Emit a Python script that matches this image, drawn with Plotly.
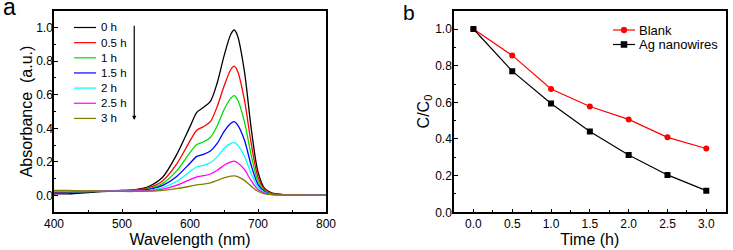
import plotly.graph_objects as go

# ---------- Panel a data ----------
wavelength = [400, 420, 440, 460, 480, 500, 520, 540, 560, 580, 600, 610, 620, 630,
              640, 650, 660, 665, 670, 680, 690, 700, 710, 720, 740, 760, 780, 800]
abs_0h = [0.010, 0.010, 0.015, 0.020, 0.025, 0.030, 0.035, 0.055, 0.110, 0.240, 0.410, 0.495, 0.525, 0.560,
          0.670, 0.830, 0.960, 0.985, 0.950, 0.740, 0.400, 0.140, 0.040, 0.015, 0.005, 0.003, 0.002, 0.002]
abs_05h = [0.020, 0.020, 0.022, 0.025, 0.028, 0.030, 0.033, 0.047, 0.088, 0.185, 0.325, 0.388, 0.410, 0.440,
           0.530, 0.650, 0.750, 0.770, 0.740, 0.570, 0.310, 0.110, 0.035, 0.012, 0.005, 0.003, 0.002, 0.002]
abs_1h = [0.025, 0.022, 0.022, 0.024, 0.026, 0.028, 0.030, 0.041, 0.072, 0.145, 0.255, 0.303, 0.320, 0.345,
          0.415, 0.510, 0.580, 0.595, 0.570, 0.440, 0.240, 0.085, 0.028, 0.010, 0.004, 0.003, 0.002, 0.002]
abs_15h = [0.022, 0.022, 0.023, 0.024, 0.025, 0.027, 0.029, 0.036, 0.060, 0.112, 0.192, 0.233, 0.245, 0.265,
           0.310, 0.380, 0.430, 0.440, 0.420, 0.330, 0.180, 0.065, 0.022, 0.008, 0.004, 0.003, 0.002, 0.002]
abs_2h = [0.024, 0.024, 0.024, 0.025, 0.026, 0.027, 0.028, 0.031, 0.047, 0.083, 0.143, 0.171, 0.180, 0.195,
          0.230, 0.280, 0.310, 0.315, 0.300, 0.235, 0.130, 0.050, 0.018, 0.007, 0.004, 0.003, 0.002, 0.002]
abs_25h = [0.028, 0.027, 0.026, 0.026, 0.026, 0.026, 0.027, 0.028, 0.038, 0.060, 0.094, 0.111, 0.118, 0.128,
           0.150, 0.180, 0.200, 0.205, 0.195, 0.155, 0.088, 0.036, 0.014, 0.006, 0.004, 0.003, 0.002, 0.002]
abs_3h = [0.030, 0.030, 0.028, 0.027, 0.025, 0.024, 0.024, 0.026, 0.031, 0.041, 0.055, 0.063, 0.068, 0.075,
          0.090, 0.105, 0.115, 0.117, 0.113, 0.090, 0.055, 0.025, 0.010, 0.005, 0.003, 0.003, 0.002, 0.002]

spectra_names = ["0 h", "0.5 h", "1 h", "1.5 h", "2 h", "2.5 h", "3 h"]
spectra_values = [abs_0h, abs_05h, abs_1h, abs_15h, abs_2h, abs_25h, abs_3h]
spectra_colors = ["#000000", "#ff0000", "#00dd00", "#0000ff", "#00ffff", "#ff00ff", "#808000"]

# ---------- Panel b data ----------
time_h = [0.0, 0.5, 1.0, 1.5, 2.0, 2.5, 3.0]
blank = [1.0, 0.856, 0.673, 0.577, 0.507, 0.409, 0.348]
ag_nanowires = [1.0, 0.770, 0.594, 0.441, 0.313, 0.204, 0.118]
series_b_names = ["Blank", "Ag nanowires"]
series_b_colors = ["#ff0000", "#000000"]
series_b_symbols = ["circle", "square"]

FONT = "Liberation Sans, Arial, sans-serif"
W, H = 733, 250


def px_x(p):
    return p / W


def px_y(p):
    return 1 - p / H


fig = go.Figure()

for name, vals, col in zip(spectra_names, spectra_values, spectra_colors):
    fig.add_trace(go.Scatter(
        x=wavelength, y=vals, name=name, mode="lines",
        line=dict(color=col, width=1.3, shape="spline", smoothing=0.8),
        xaxis="x", yaxis="y", showlegend=False))

for name, vals, col, sym in zip(series_b_names, [blank, ag_nanowires], series_b_colors, series_b_symbols):
    fig.add_trace(go.Scatter(
        x=time_h, y=vals, name=name, mode="lines+markers",
        line=dict(color=col, width=1.2),
        marker=dict(symbol=sym, size=6, color=col),
        xaxis="x2", yaxis="y2", showlegend=False))

axis_common = dict(
    showline=True, linecolor="black", linewidth=1.5, mirror=True,
    ticks="inside", ticklen=4, tickwidth=1, tickcolor="black",
    showgrid=False, zeroline=False, automargin=False,
    tickfont=dict(family=FONT, size=12, color="black"),
)
minor_common = dict(ticks="inside", ticklen=2.5, tickcolor="black", showgrid=False)
title_font = dict(family=FONT, size=16, color="black")

fig.update_layout(
    width=W, height=H,
    margin=dict(l=0, r=0, t=0, b=0),
    paper_bgcolor="white", plot_bgcolor="white",
    font=dict(family=FONT, color="black"),
    showlegend=False,
    xaxis=dict(domain=[px_x(54), px_x(326)], range=[400, 800], anchor="y",
               tickvals=[400, 500, 600, 700, 800],
               minor=dict(dtick=50, tick0=400, **minor_common),
               title=dict(text="Wavelength (nm)", font=title_font, standoff=0),
               **axis_common),
    yaxis=dict(domain=[px_y(212.3), px_y(10.7)], range=[-0.1, 1.1], anchor="x",
               tickvals=[0.0, 0.2, 0.4, 0.6, 0.8, 1.0], tickformat=".1f",
               ticklabelstandoff=-3,
               minor=dict(dtick=0.1, tick0=0, **minor_common),
               title=dict(text="Absorbance  (a.u.)", font=title_font, standoff=0),
               **axis_common),
    xaxis2=dict(domain=[px_x(454), px_x(725.7)], range=[-0.25, 3.25], anchor="y2",
                tickvals=[0.0, 0.5, 1.0, 1.5, 2.0, 2.5, 3.0], tickformat=".1f",
                minor=dict(dtick=0.25, tick0=0, **minor_common),
                title=dict(text="Time (h)", font=title_font, standoff=0),
                **axis_common),
    yaxis2=dict(domain=[px_y(212.3), px_y(10.7)], range=[0, 1.1], anchor="x2",
                tickvals=[0.0, 0.2, 0.4, 0.6, 0.8, 1.0], tickformat=".1f",
                ticklabelstandoff=-2,
                minor=dict(dtick=0.1, tick0=0, **minor_common),
                title=dict(text="C/C<sub>0</sub>", font=title_font, standoff=2),
                **axis_common),
)

# ---- legend of panel a (compact, drawn from names/colours) ----
row0_a, step_a = 27.5, 15.15
for i, (name, col) in enumerate(zip(spectra_names, spectra_colors)):
    yy = px_y(row0_a + i * step_a)
    fig.add_shape(type="line", xref="paper", yref="paper",
                  x0=px_x(74), x1=px_x(96), y0=yy, y1=yy, line=dict(color=col, width=1.2))
    fig.add_annotation(x=px_x(98.5), y=yy, xref="paper", yref="paper", text=name, showarrow=False,
                       xanchor="left", yanchor="middle", font=dict(family=FONT, size=11.5, color="black"))

# ---- legend of panel b ----
row0_b, step_b = 30, 14.5
for i, (name, col, sym) in enumerate(zip(series_b_names, series_b_colors, series_b_symbols)):
    yrow = row0_b + i * step_b
    yy = px_y(yrow)
    fig.add_shape(type="line", xref="paper", yref="paper",
                  x0=px_x(613), x1=px_x(635), y0=yy, y1=yy, line=dict(color=col, width=1.2))
    fig.add_shape(type="circle" if sym == "circle" else "rect", xref="paper", yref="paper",
                  x0=px_x(621), x1=px_x(627), y0=px_y(yrow + 3), y1=px_y(yrow - 3),
                  line=dict(color=col, width=0.5), fillcolor=col)
    fig.add_annotation(x=px_x(637), y=yy, xref="paper", yref="paper", text=name, showarrow=False,
                       xanchor="left", yanchor="middle", font=dict(family=FONT, size=13, color="black"))

# downward arrow in panel a
fig.add_annotation(x=518, y=0.45, ax=518, ay=1.02, xref="x", yref="y", axref="x", ayref="y",
                   showarrow=True, arrowhead=2, arrowsize=0.7, arrowwidth=1.2, arrowcolor="black", text="")

# panel labels
fig.add_annotation(x=px_x(1), y=px_y(-2), xref="paper", yref="paper", text="a", showarrow=False,
                   xanchor="left", yanchor="top", font=dict(family=FONT, size=23, color="black"), yshift=6)
fig.add_annotation(x=px_x(401), y=px_y(-2), xref="paper", yref="paper", text="b", showarrow=False,
                   xanchor="left", yanchor="top", font=dict(family=FONT, size=21, color="black"), yshift=-1)

fig.write_html("out.html", config={"displayModeBar": False},
               post_script="document.body.style.margin='0';document.body.style.overflow='hidden';")
